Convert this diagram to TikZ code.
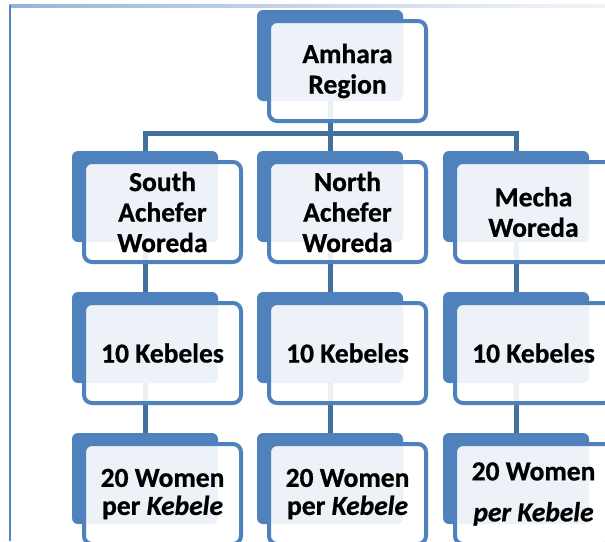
\documentclass[tikz,border=0pt]{standalone}
\usepackage{fontspec}
\setmainfont{Carlito}[BoldFont={Carlito Bold}, ItalicFont={Carlito Italic}, BoldItalicFont={Carlito Bold Italic}, BoldFeatures={FakeBold=0.8}, BoldItalicFeatures={FakeBold=0.8}]
\definecolor{boxblue}{HTML}{4F81BD}
\definecolor{linkblue}{HTML}{41719C}
\definecolor{frameblue}{HTML}{5585C0}
\pgfdeclarelayer{bg}
\pgfsetlayers{bg,main}
\pgfdeclarehorizontalshading{fadeline}{100bp}{color(0bp)=(frameblue); color(30bp)=(frameblue!55); color(70bp)=(frameblue!12); color(100bp)=(white)}
\tikzset{
  backbox/.style={fill=boxblue, draw=none, rounded corners=6pt, minimum width=146pt, minimum height=91pt, inner sep=0pt},
  frontbox/.style={fill=white, fill opacity=0.9, text opacity=1, draw=boxblue, line width=4pt, rounded corners=8pt,
    minimum width=157pt, minimum height=100pt, inner sep=0pt, align=center,
    font=\bfseries\fontsize{27.5pt}{30.5pt}\selectfont},
  conn/.style={draw=linkblue, line width=5pt},
}
\begin{document}
\begin{tikzpicture}[x=1pt,y=-1pt]
\useasboundingbox (0,0) rectangle (605,541);
% frame
\shade[shading=fadeline] (9,4.5) rectangle (605,7.5);
\draw[frameblue, line width=2.2pt] (10,5) -- (10,541);
% row 0
\node[backbox] (b0) at (330,55.5) {};
\node[frontbox] (f0) at (347.5,71) {Amhara\\Region};
% row 1
\node[backbox] (b1a) at (145,196.5) {};
\node[frontbox] (f1a) at (162.5,212) {South\\Achefer\\Woreda};
\node[backbox] (b1b) at (330,196.5) {};
\node[frontbox] (f1b) at (347.5,212) {North\\Achefer\\Woreda};
\node[backbox] (b1c) at (516,196.5) {};
\node[frontbox] (f1c) at (533.5,212) {Mecha\\Woreda};
% row 2
\node[backbox] (b2a) at (145,337.5) {};
\node[frontbox] (f2a) at (162.5,353) {10 Kebeles};
\node[backbox] (b2b) at (330,337.5) {};
\node[frontbox] (f2b) at (347.5,353) {10 Kebeles};
\node[backbox] (b2c) at (516,337.5) {};
\node[frontbox] (f2c) at (533.5,353) {10 Kebeles};
% row 3
\node[backbox] (b3a) at (145,478.5) {};
\node[frontbox] (f3a) at (162.5,494) {20 Women\\[-2.5pt]per \textit{Kebele}};
\node[backbox] (b3b) at (330,478.5) {};
\node[frontbox] (f3b) at (347.5,494) {20 Women\\[-2.5pt]per \textit{Kebele}};
\node[backbox] (b3c) at (516,478.5) {};
\node[frontbox] (f3c) at (533.5,494) {20 Women\\[10.5pt]\textit{per Kebele}};
% connectors
\coordinate (bar) at (330,133);
\begin{pgfonlayer}{bg}
\draw[conn] (b0.center) -- (bar);
\draw[conn] (b1a.center) |- (bar) -| (b1c.center);
\draw[conn] (bar) -- (b1b.center);
\draw[conn] (b1a.center) -- (b2a.center) -- (b3a.center);
\draw[conn] (b1b.center) -- (b2b.center) -- (b3b.center);
\draw[conn] (b1c.center) -- (b2c.center) -- (b3c.center);
\end{pgfonlayer}
\end{tikzpicture}
\end{document}
